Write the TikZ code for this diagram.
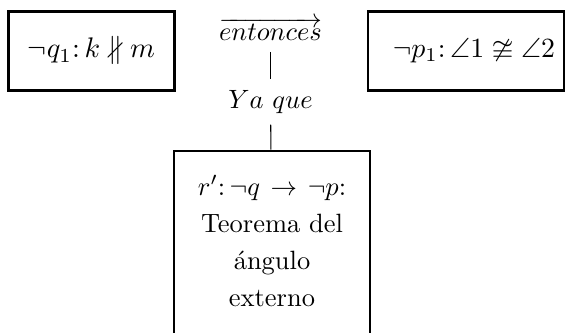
\documentclass[tikz,border=0pt]{standalone}
\usepackage{amssymb}
\usepackage{graphicx}
\begin{document}
\begin{tikzpicture}[x=0.378pt,y=-0.378pt,
  box/.style={draw,line width=0.8pt,inner sep=0pt,align=center},
  lbl/.style={inner sep=4pt},
  conn/.style={line width=0.4pt}]
\useasboundingbox (0,0) rectangle (566,332);
\node[box,minimum width=166*0.378pt,minimum height=79*0.378pt] (q) at (91.5,51)
  {\scalebox{1.07}{$\neg q_1\colon k\nparallel m$}};
\node[box,minimum width=196*0.378pt,minimum height=79*0.378pt] (p) at (466,51)
  {\hspace*{16\dimexpr0.378pt\relax}\scalebox{1.05}{$\neg p_1\colon \angle 1\ncong\angle 2$}};
\node[lbl] (ent) at (270.5,29) {$\overrightarrow{entonces}$};
\node[lbl] (ya) at (270.5,102) {$Ya\ que$};
\node[box,anchor=north,text width=196*0.378pt,inner xsep=0pt,inner ysep=9.5pt,font=\fontsize{10}{14}\selectfont] (r) at (272,149.5)
  {$r'\colon\neg q\to\neg p$:\\ Teorema del\\ ángulo\\ externo\\ \strut};
\draw[conn] (ent) -- (ya);
\draw[conn] (ya) -- (r);
\end{tikzpicture}
\end{document}
